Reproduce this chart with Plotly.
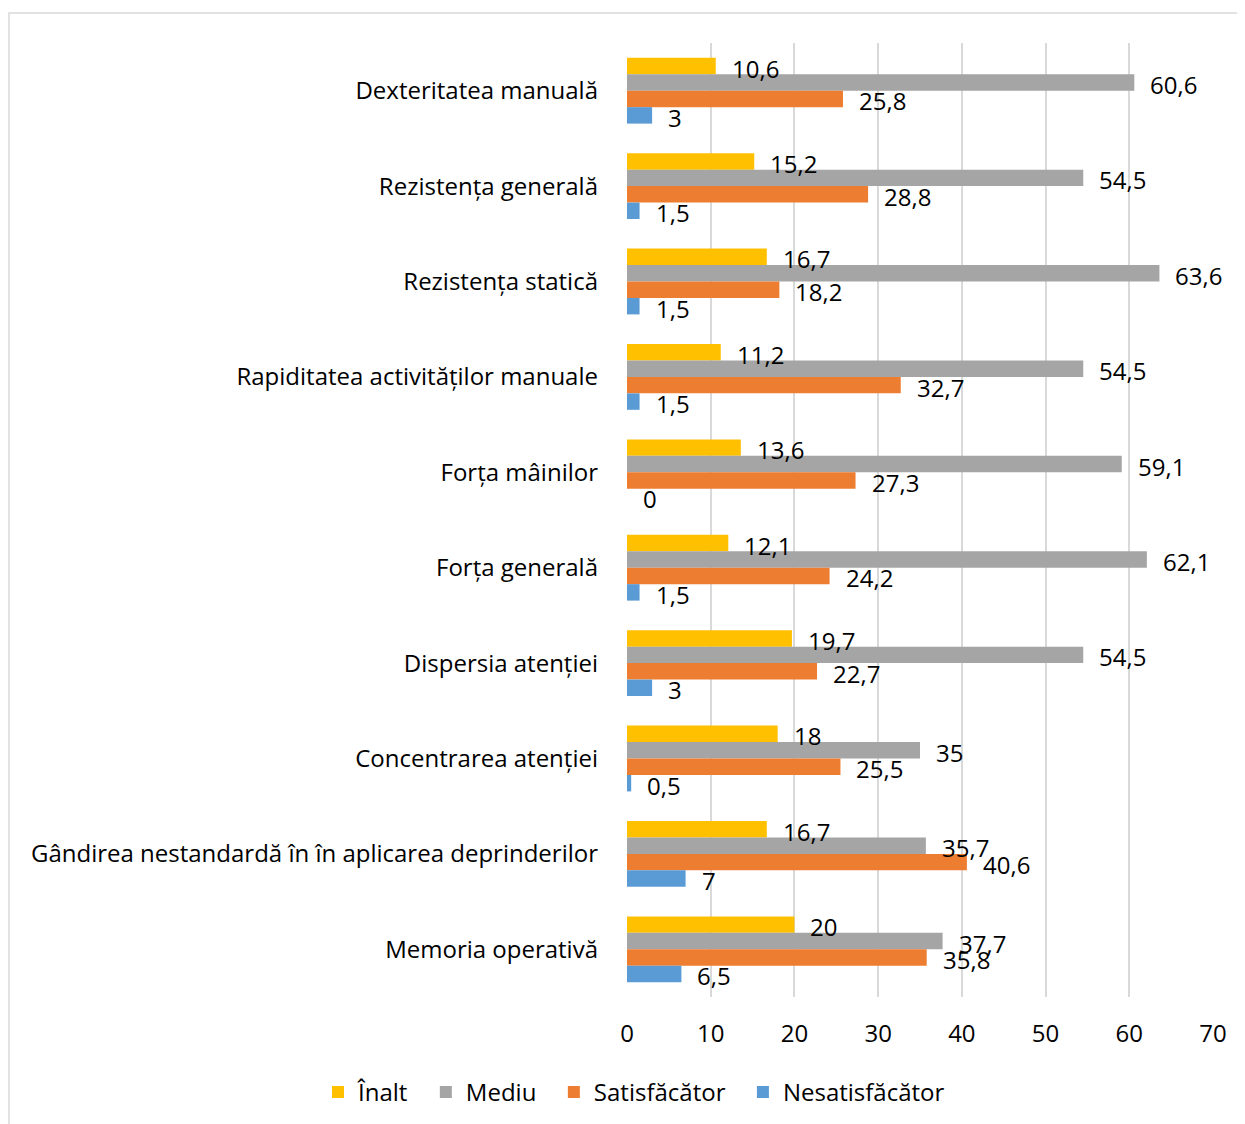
import plotly.graph_objects as go

categories = [
    "Dexteritatea manuală",
    "Rezistența generală",
    "Rezistența statică",
    "Rapiditatea activităților manuale",
    "Forța mâinilor",
    "Forța generală",
    "Dispersia atenției",
    "Concentrarea atenției",
    "Gândirea nestandardă în în aplicarea deprinderilor",
    "Memoria operativă",
]
series_names = ["Înalt", "Mediu", "Satisfăcător", "Nesatisfăcător"]
inalt = [10.6, 15.2, 16.7, 11.2, 13.6, 12.1, 19.7, 18, 16.7, 20]
mediu = [60.6, 54.5, 63.6, 54.5, 59.1, 62.1, 54.5, 35, 35.7, 37.7]
satisfacator = [25.8, 28.8, 18.2, 32.7, 27.3, 24.2, 22.7, 25.5, 40.6, 35.8]
nesatisfacator = [3, 1.5, 1.5, 1.5, 0, 1.5, 3, 0.5, 7, 6.5]
colors = ["#FFC000", "#A5A5A5", "#ED7D31", "#5B9BD5"]

# page body has an 8px margin, so the figure is shifted by that much
W, H = 1245, 1124
ML, MR, MT, MB = 619, 40, 35, 135
BARGAP = 0.31
FONT = "'Open Sans', 'Liberation Sans', sans-serif"
FS = 24


def fmt(v):
    s = f"{v:g}"
    return s.replace(".", ",")


fig = go.Figure()
all_series = [inalt, mediu, satisfacator, nesatisfacator]
for name, vals, col in zip(series_names, all_series, colors):
    fig.add_trace(go.Bar(y=categories, x=vals, orientation="h",
                         name=name + "\u00a0\u00a0",
                         marker=dict(color=col, line=dict(width=0))))

# value labels, one per bar, offset within the group like Excel
band = (H - MT - MB) / len(categories)
bw = band * (1 - BARGAP) / 4
for k, vals in enumerate(all_series):
    ys = -(k - 1.5) * bw - 2
    for cat, v in zip(categories, vals):
        fig.add_annotation(x=v, y=cat, text=fmt(v), showarrow=False,
                           xanchor="left", xshift=14, yshift=ys,
                           font=dict(size=FS, color="#000000", family=FONT))

# outer chart border
pw, ph = W - ML - MR, H - MT - MB
fig.add_shape(type="rect", xref="paper", yref="paper",
              x0=(1 - ML) / pw, x1=(W + 20 - ML) / pw,
              y0=-(MB + 20) / ph, y1=1 + (MT - 5) / ph,
              line=dict(color="#D9D9D9", width=1.5), layer="below")

fig.update_layout(
    width=W, height=H,
    margin=dict(l=ML, r=MR, t=MT, b=MB, autoexpand=False),
    barmode="group", bargap=BARGAP, bargroupgap=0,
    plot_bgcolor="white", paper_bgcolor="white",
    font=dict(family=FONT, size=FS, color="#000000"),
    showlegend=True,
    legend=dict(orientation="h", xref="paper", x=(310 - ML) / pw, xanchor="left",
                y=-0.1, yanchor="middle", font=dict(size=FS),
                traceorder="normal", itemwidth=30),
    xaxis=dict(range=[0, 70], dtick=10, showgrid=True, gridcolor="#D9D9D9",
               gridwidth=1.5, zeroline=False, showline=False, ticks="",
               ticklabelstandoff=20, tickfont=dict(size=FS)),
    yaxis=dict(autorange="reversed", showgrid=False, showline=False, ticks="",
               ticklabelstandoff=28, tickfont=dict(size=FS)),
)

fig.write_html("out.html")
